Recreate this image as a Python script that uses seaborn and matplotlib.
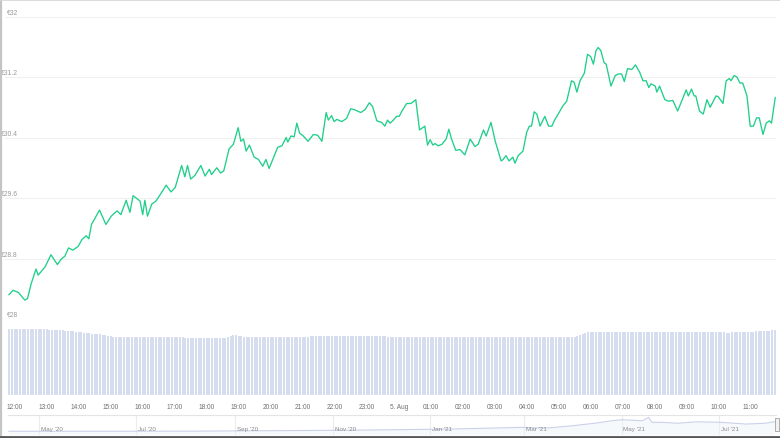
import numpy as np
import pandas as pd
import matplotlib
matplotlib.use("Agg")
import matplotlib.pyplot as plt
import matplotlib.dates as mdates
from matplotlib.ticker import FuncFormatter
from matplotlib.patches import Rectangle
from matplotlib.lines import Line2D
import seaborn as sns

# ---------------- data ----------------
BASE = "2021-08-04 12:00"

# price line: minutes after 2021-08-04 12:00, price in EUR
price_minutes = [
    -11, -3, 7, 19, 24, 31, 40, 44, 57, 68, 80, 87, 94, 101, 109, 119, 126, 134, 139, 144,
    159, 171, 181, 192, 199, 209, 216, 222, 235, 240, 244, 249, 257, 265, 276, 284, 293, 301,
    313, 319, 324, 330, 338, 349, 357, 365, 369, 379, 386, 392, 402, 410, 419, 424, 429, 434,
    440, 449, 457, 465, 471, 477, 493, 501, 509, 512, 518, 524, 529, 534, 541, 550, 560, 568,
    576, 584, 588, 594, 599, 604, 613, 622, 630, 636, 649, 657, 665, 671, 679, 688, 694, 699,
    704, 710, 716, 721, 726, 735, 743, 752, 759, 765, 769, 774, 779, 784, 788, 794, 801, 809,
    814, 819, 827, 835, 844, 854, 863, 869, 879, 884, 893, 901, 912, 916, 921, 927, 934, 938,
    944, 953, 960, 965, 969, 974, 979, 985, 994, 1001, 1007, 1013, 1019, 1028, 1035, 1044,
    1049, 1054, 1060, 1068, 1074, 1080, 1085, 1090, 1094, 1099, 1105, 1109, 1118, 1126, 1132,
    1138, 1143, 1149, 1157, 1164, 1172, 1178, 1184, 1189, 1193, 1201, 1204, 1209, 1219, 1226,
    1234, 1243, 1259, 1263, 1269, 1274, 1277, 1284, 1291, 1298, 1304, 1315, 1319, 1328, 1334,
    1340, 1343, 1349, 1354, 1360, 1365, 1373, 1379, 1385, 1391, 1396, 1403, 1409, 1415, 1419,
    1426,
]
price_eur = [
    28.32, 28.38, 28.35, 28.25, 28.27, 28.47, 28.66, 28.58, 28.69, 28.85, 28.72, 28.79, 28.83,
    28.94, 28.91, 28.96, 29.05, 29.10, 29.06, 29.25, 29.44, 29.25, 29.36, 29.43, 29.38, 29.57,
    29.41, 29.63, 29.56, 29.38, 29.57, 29.36, 29.52, 29.56, 29.68, 29.77, 29.68, 29.74, 30.03,
    29.88, 30.03, 29.85, 29.90, 30.03, 29.89, 29.98, 29.91, 30.00, 29.93, 29.96, 30.25, 30.31,
    30.53, 30.35, 30.38, 30.22, 30.30, 30.14, 30.11, 30.02, 30.11, 29.99, 30.27, 30.29, 30.40,
    30.34, 30.42, 30.41, 30.59, 30.46, 30.42, 30.35, 30.44, 30.43, 30.35, 30.73, 30.63, 30.69,
    30.61, 30.64, 30.61, 30.65, 30.78, 30.77, 30.73, 30.77, 30.86, 30.81, 30.62, 30.60, 30.55,
    30.63, 30.59, 30.63, 30.68, 30.68, 30.75, 30.85, 30.85, 30.90, 30.50, 30.53, 30.55, 30.30,
    30.37, 30.30, 30.32, 30.29, 30.31, 30.38, 30.51, 30.38, 30.23, 30.24, 30.17, 30.38, 30.28,
    30.31, 30.50, 30.42, 30.60, 30.35, 30.09, 30.11, 30.16, 30.09, 30.14, 30.06, 30.16, 30.22,
    30.47, 30.55, 30.55, 30.74, 30.71, 30.55, 30.68, 30.55, 30.55, 30.64, 30.71, 30.82, 30.88,
    31.15, 31.13, 31.00, 31.15, 31.25, 31.50, 31.47, 31.37, 31.55, 31.59, 31.55, 31.39, 31.37,
    31.08, 31.22, 31.24, 31.24, 31.14, 31.31, 31.30, 31.36, 31.26, 31.15, 31.15, 31.06, 31.11,
    31.08, 31.00, 31.08, 30.90, 30.88, 30.89, 30.75, 31.03, 30.95, 31.04, 30.95, 30.95, 30.75,
    30.71, 30.90, 30.80, 30.95, 30.94, 30.85, 31.15, 31.18, 31.15, 31.22, 31.20, 31.12, 31.12,
    30.95, 30.55, 30.55, 30.66, 30.66, 30.44, 30.59, 30.62, 30.59, 30.93,
]

# 24h volume bars, one per 5 minutes from 11:50 (relative units), one row per hour
volume = [
    66, 66, 66, 66, 66, 66, 66, 66, 66, 66, 66, 66,
    66, 66, 66, 65.5, 65.5, 65, 65, 65, 65, 64.5, 64.5, 64,
    64, 63.5, 63, 63, 62.5, 62, 62, 61.5, 61, 61, 61, 60.5,
    60, 59.5, 59, 58.5, 58.5, 58.5, 58.5, 58.5, 58.5, 58.5, 58.5, 58.5,
    58.5, 58.5, 58.5, 58, 58, 58, 58, 58, 58, 58, 58, 58,
    58, 58, 58, 58, 58, 58, 57.5, 57.5, 57.5, 57.5, 57.5, 57.5,
    57.5, 57.5, 57.5, 57.5, 57.5, 57.5, 57.5, 57.5, 57.5, 57.5, 58, 59,
    60, 60, 59.5, 59, 58.5, 58.5, 58.5, 58.5, 58.5, 58.5, 58.5, 58.5,
    58.5, 58.5, 58.5, 58.5, 58.5, 58.5, 58.5, 58.5, 58.5, 58.5, 58.5, 58.5,
    58.5, 58.5, 58.5, 58.5, 58.5, 59, 59, 59, 59, 59, 59, 59,
    59, 59, 59, 59, 59, 59, 59, 59, 59, 59, 59, 59,
    59, 59, 59, 59, 59, 59, 59, 59, 59, 59, 58.5, 58.5,
    58.5, 58.5, 58.5, 58.5, 58.5, 58.5, 58.5, 58.5, 58.5, 58.5, 58.5, 58.5,
    58.5, 58.5, 58.5, 58.5, 58.5, 58.5, 58.5, 58.5, 58.5, 58.5, 58.5, 58.5,
    58.5, 58.5, 58.5, 58.5, 58.5, 58.5, 58.5, 58.5, 58.5, 58.5, 58.5, 58.5,
    58.5, 58.5, 58.5, 58.5, 58.5, 58.5, 58.5, 58.5, 58.5, 58.5, 58.5, 58.5,
    58.5, 58.5, 58.5, 58.5, 58.5, 58.5, 58.5, 58.5, 58.5, 58.5, 58.5, 58.5,
    58.5, 58.5, 58.5, 58.5, 58.5, 58.5, 58.5, 58.5, 58.5, 59, 60, 61,
    62, 63, 63.5, 63.5, 63.5, 63.5, 63.5, 63.5, 63.5, 63.5, 63.5, 63.5,
    63.5, 63.5, 63.5, 63.5, 63.5, 63.5, 63.5, 63.5, 63.5, 63.5, 63.5, 63.5,
    63, 63, 63, 63, 63, 63, 63, 63, 63, 63, 63, 63,
    63, 63, 63, 63, 63, 63, 63, 63, 63, 63, 63, 63,
    63, 63, 63, 63, 63, 62.5, 62.5, 63, 63, 63, 63, 63,
    63, 63, 63.5, 63.5, 64, 64, 64, 64, 64, 64.5, 65, 65,
]

price_ticks = [28.0, 28.8, 29.6, 30.4, 31.2, 32.0]
price_tick_labels = ["€28", "€28.8", "€29.6", "€30.4", "€31.2", "€32"]

# navigator: one-year price history (EUR)
nav_dates = ["2020-04-12", "2020-06-08", "2020-08-09", "2020-11-10", "2021-01-12",
             "2021-02-27", "2021-03-15", "2021-03-31", "2021-04-15", "2021-04-25",
             "2021-05-01", "2021-05-14", "2021-05-18", "2021-05-20", "2021-05-26",
             "2021-06-05", "2021-06-17", "2021-07-02", "2021-07-18", "2021-07-30",
             "2021-08-05"]
nav_eur = [0.7, 0.8, 1.2, 4.0, 7.5, 13.0, 11.0, 18.0, 26.5, 34.0, 37.0, 34.0, 44.5, 29.0,
           29.0, 26.0, 30.5, 29.0, 23.5, 26.0, 30.9]
nav_month_ticks = ["2020-05-01", "2020-07-01", "2020-09-01", "2020-11-01", "2021-01-01",
                   "2021-03-01", "2021-05-01", "2021-07-01"]
nav_month_labels = ["May '20", "Jul '20", "Sep '20", "Nov '20", "Jan '21", "Mar '21",
                    "May '21", "Jul '21"]

# ---------------- figure ----------------
W, H = 780, 439
sns.set_theme(style="white")
plt.rcParams["font.family"] = ["Liberation Sans Narrow", "Liberation Sans", "DejaVu Sans"]

fig = plt.figure(figsize=(W / 100, H / 100), dpi=100)
fig.patch.set_facecolor("white")

def px_axes(x0, y0, x1, y1):
    return fig.add_axes([x0 / W, 1 - y1 / H, (x1 - x0) / W, (y1 - y0) / H])

base = pd.Timestamp(BASE)
df_price = pd.DataFrame({
    "time": base + pd.to_timedelta(price_minutes, unit="min"),
    "price": price_eur,
})
vol_times = pd.date_range("2021-08-04 11:50", periods=len(volume), freq="5min")
df_vol = pd.DataFrame({"time": vol_times, "volume": volume})

xlim = (base + pd.Timedelta(minutes=-18.2), base + pd.Timedelta(minutes=1427.4))

# ---- price axes ----
ax = px_axes(5, 17.5, 776, 320)
sns.lineplot(data=df_price, x="time", y="price", ax=ax, color="#1fcf8a",
             linewidth=0.95, estimator=None, sort=False)
ax.set_xlim(*xlim)
ax.set_ylim(28, 32)
ax.set_yticks(price_ticks)
ax.yaxis.grid(True, color="#f0f0f0", linewidth=0.8)
ax.xaxis.grid(False)
ax.set_xticks([])
ax.tick_params(axis="y", length=0, labelleft=False)
ax.set_xlabel("")
ax.set_ylabel("")
for s in ax.spines.values():
    s.set_visible(False)
ax.set_facecolor("none")
ylab_tr = matplotlib.transforms.blended_transform_factory(ax.transAxes, ax.transData)
for v, lab in zip(price_ticks, price_tick_labels):
    ax.text(13 / 771, v + 0.012, lab, transform=ylab_tr, ha="right", va="bottom",
            fontsize=4.9, color="#9a9a9a")

# ---- volume axes ----
axv = px_axes(5, 326, 776, 396)
axv.bar(df_vol["time"], df_vol["volume"], width=3.4 / 1440, color="#d6ddef",
        linewidth=0, align="center")
axv.set_xlim(*xlim)
axv.set_ylim(0, 70)
axv.set_yticks([])
axv.xaxis.set_major_locator(mdates.HourLocator(interval=1))

def hour_fmt(x, pos):
    d = mdates.num2date(x)
    if d.hour == 0 and d.minute == 0:
        return f"{d.day}. {d.strftime('%b')}"
    return d.strftime("%H:%M")

axv.xaxis.set_major_formatter(FuncFormatter(hour_fmt))
axv.tick_params(axis="x", length=4, width=0.7, color="#ccd6eb", labelsize=4.7,
                labelcolor="#707070", pad=1.5)
for k, s in axv.spines.items():
    s.set_visible(False)
axv.set_xlabel("")
axv.set_facecolor("none")

# ---- navigator ----
axn = px_axes(8, 416, 776, 436)
nav_df = pd.DataFrame({"date": pd.to_datetime(nav_dates), "eur": nav_eur})
sns.lineplot(data=nav_df, x="date", y="eur", ax=axn, color="#c9d2e8", linewidth=0.8,
             estimator=None, sort=False)
axn.fill_between(nav_df["date"], nav_df["eur"], -11, color="#e8eef8", alpha=0.35, linewidth=0)
axn.set_xlim(pd.Timestamp("2020-04-11 14:00"), pd.Timestamp("2021-08-05 19:00"))
axn.set_ylim(-11, 52)
axn.set_xticks(pd.to_datetime(nav_month_ticks))
axn.xaxis.grid(True, color="#ececec", linewidth=0.8)
axn.yaxis.grid(False)
axn.set_yticks([])
axn.tick_params(axis="x", length=0, labelbottom=False)
axn.set_xlabel("")
axn.set_ylabel("")
for k, s in axn.spines.items():
    s.set_visible(k == "top")
axn.spines["top"].set_color("#e4e4e4")
axn.spines["top"].set_linewidth(0.8)
nav_tr = matplotlib.transforms.blended_transform_factory(axn.transData, axn.transAxes)
for d, lab in zip(pd.to_datetime(nav_month_ticks), nav_month_labels):
    axn.text(mdates.date2num(d) + 1.2, 0.3, lab, transform=nav_tr, ha="left", va="center",
             fontsize=4.5, color="#8a8a8a")

# navigator handle at the right end
fig.add_artist(Rectangle((774.5 / W, 1 - 432 / H), 4 / W, 13 / H, transform=fig.transFigure,
                         facecolor="#f2f2f2", edgecolor="#a0a0a0", linewidth=0.6))

# screenshot frame
fig.add_artist(Line2D([0.8 / W, 0.8 / W], [0, 1], transform=fig.transFigure,
                      color="#c4c4c4", linewidth=1.6))
fig.add_artist(Line2D([0, 1], [1 - 0.6 / H, 1 - 0.6 / H], transform=fig.transFigure,
                      color="#d4d4d4", linewidth=1.2))
fig.add_artist(Line2D([0, 1], [1.2 / H, 1.2 / H], transform=fig.transFigure,
                      color="#555555", linewidth=2.0))

fig.savefig("out.png", dpi=100, facecolor="white")
